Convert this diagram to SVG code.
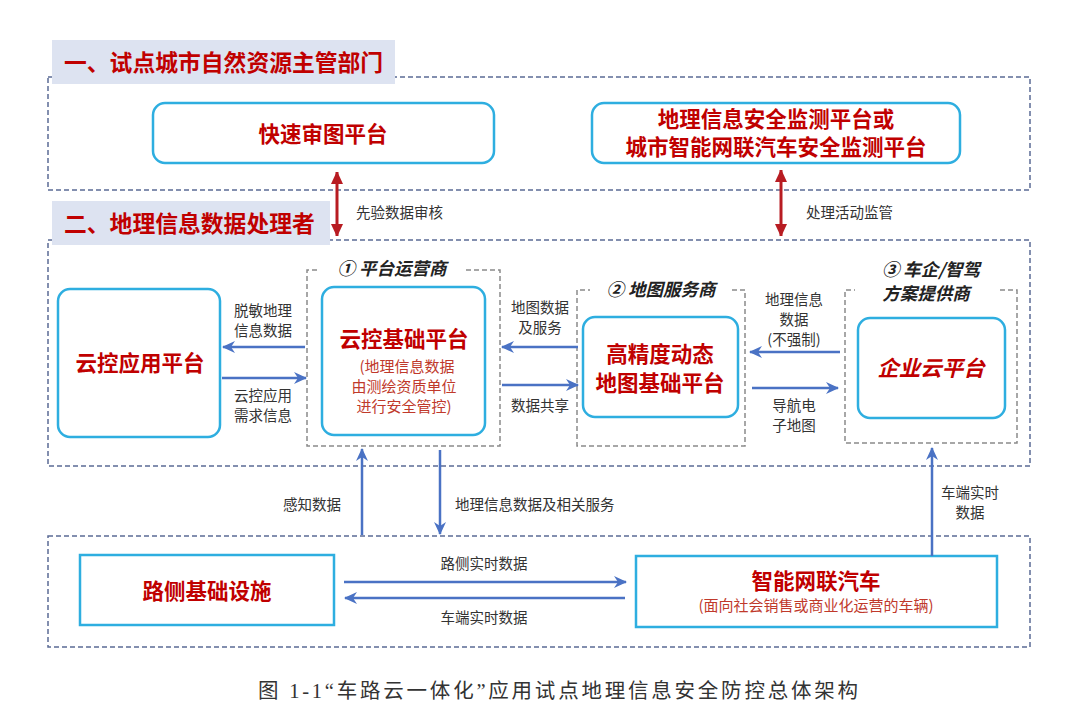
<svg xmlns="http://www.w3.org/2000/svg" width="1080" height="722" viewBox="0 0 1080 722">
<style>
.sec{fill:none;stroke:#5b6b95;stroke-width:1.5;stroke-dasharray:5 3}
.grp{fill:none;stroke:#8a8a8a;stroke-width:1.5;stroke-dasharray:5 3}
.hbg{fill:#dde3f1}
.node{fill:#fff;stroke:#2eaee0;stroke-width:2.5}
.h{font-family:"Noto Sans CJK SC",sans-serif;font-weight:bold;fill:#c00000;font-size:22.8px}
.t{font-family:"Noto Sans CJK SC",sans-serif;font-weight:bold;fill:#c00000;font-size:21.5px;text-anchor:middle}
.s{font-family:"Noto Sans CJK SC",sans-serif;fill:#c0392b;font-size:15px;text-anchor:middle}
.l{font-family:"Noto Sans CJK SC",sans-serif;fill:#333;font-size:14.5px;text-anchor:middle}
.ls{font-family:"Noto Sans CJK SC",sans-serif;fill:#333;font-size:14.5px;text-anchor:start}
.g{font-family:"Noto Sans CJK SC",sans-serif;font-weight:bold;font-style:italic;fill:#222;font-size:17.5px;text-anchor:middle}
.ba{stroke:#4a72c4;stroke-width:2.5;fill:none;marker-end:url(#bh)}
.ra{stroke:#b81c22;stroke-width:3;fill:none;marker-start:url(#rh);marker-end:url(#rh)}
</style>
<defs>
<marker id="bh" markerUnits="userSpaceOnUse" markerWidth="14" markerHeight="12" refX="12" refY="6" orient="auto">
<path d="M0,0 L13,6 L0,12 L4,6 z" fill="#4a72c4"/>
</marker>
<marker id="rh" markerUnits="userSpaceOnUse" markerWidth="12" markerHeight="14" refX="12" refY="6" orient="auto-start-reverse">
<path d="M0,0 L13,6 L0,12 z" fill="#b81c22"/>
</marker>
</defs>
<rect width="1080" height="722" fill="#fff"/>

<g id="section1">
<rect class="sec" x="48" y="77" width="982" height="113"/>
<rect class="hbg" x="52" y="40" width="343" height="44"/>
<text class="h" x="64" y="71">一、试点城市自然资源主管部门</text>
</g>
<g id="section2">
<rect class="sec" x="48" y="240" width="982" height="226"/>
<rect class="hbg" x="52" y="201" width="278" height="44"/>
<text class="h" x="64" y="232">二、地理信息数据处理者</text>
</g>
<g id="section3">
<rect class="sec" x="48" y="536" width="982" height="111"/>
</g>

<g id="grp1">
<path class="grp" d="M466,270 H500 V446 H307 V270 H318"/>
<text class="g" x="392" y="275">① 平台运营商</text>
</g>
<g id="grp2">
<path class="grp" d="M732,290 H745 V446 H577 V290 H590"/>
<text class="g" x="661" y="296">② 地图服务商</text>
</g>
<g id="grp3">
<path class="grp" d="M1000,290 H1017 V443 H845 V290 H855"/>
<text class="g" x="931" y="276">③ 车企/智驾</text>
<text class="g" x="926" y="300">方案提供商</text>
</g>

<g id="n-review">
<rect class="node" x="153" y="103" width="341" height="60" rx="12"/>
<text class="t" x="323" y="142">快速审图平台</text>
</g>
<g id="n-monitor">
<rect class="node" x="592" y="103" width="368" height="60" rx="12"/>
<text class="t" x="776" y="127">地理信息安全监测平台或</text>
<text class="t" x="776" y="155">城市智能网联汽车安全监测平台</text>
</g>
<g id="n-app">
<rect class="node" x="58" y="289" width="162" height="148" rx="12"/>
<text class="t" x="140" y="371">云控应用平台</text>
</g>
<g id="n-base">
<rect class="node" x="322" y="287" width="163" height="148" rx="12"/>
<text class="t" x="404" y="347">云控基础平台</text>
<text class="s" x="407" y="372">(地理信息数据</text>
<text class="s" x="404" y="392">由测绘资质单位</text>
<text class="s" x="404" y="412">进行安全管控)</text>
</g>
<g id="n-hdmap">
<rect class="node" x="583" y="317" width="155" height="100" rx="12"/>
<text class="t" x="660" y="362">高精度动态</text>
<text class="t" x="660" y="391">地图基础平台</text>
</g>
<g id="n-cloud">
<rect class="node" x="858" y="318" width="147" height="100" rx="12"/>
<text class="t" x="931" y="376" font-style="italic">企业云平台</text>
</g>
<g id="n-road">
<rect class="node" x="80" y="555" width="254" height="70"/>
<text class="t" x="207" y="599">路侧基础设施</text>
</g>
<g id="n-car">
<rect class="node" x="636" y="556" width="361" height="71"/>
<text class="t" x="816" y="589">智能网联汽车</text>
<text class="s" x="816" y="611">(面向社会销售或商业化运营的车辆)</text>
</g>

<g id="connectors">
<line class="ra" x1="337" y1="172" x2="337" y2="236"/>
<line class="ra" x1="781" y1="170" x2="781" y2="236"/>
<line class="ba" x1="305" y1="347" x2="223" y2="347"/>
<line class="ba" x1="222" y1="378" x2="306" y2="378"/>
<line class="ba" x1="578" y1="347" x2="502" y2="347"/>
<line class="ba" x1="502" y1="385" x2="578" y2="385"/>
<line class="ba" x1="840" y1="352" x2="750" y2="352"/>
<line class="ba" x1="752" y1="388" x2="838" y2="388"/>
<line class="ba" x1="362" y1="535" x2="362" y2="449"/>
<line class="ba" x1="440" y1="450" x2="440" y2="534"/>
<line class="ba" x1="932" y1="556" x2="932" y2="448"/>
<line class="ba" x1="344" y1="582" x2="626" y2="582"/>
<line class="ba" x1="625" y1="598" x2="345" y2="598"/>
</g>

<g id="labels">
<text class="ls" x="356" y="218">先验数据审核</text>
<text class="ls" x="806" y="218">处理活动监管</text>
<text class="l" x="263" y="316">脱敏地理</text>
<text class="l" x="263" y="336">信息数据</text>
<text class="l" x="263" y="401">云控应用</text>
<text class="l" x="263" y="421">需求信息</text>
<text class="l" x="540" y="313">地图数据</text>
<text class="l" x="540" y="333">及服务</text>
<text class="l" x="540" y="411">数据共享</text>
<text class="l" x="794" y="305">地理信息</text>
<text class="l" x="794" y="325">数据</text>
<text class="l" x="794" y="345">(不强制)</text>
<text class="l" x="794" y="411">导航电</text>
<text class="l" x="794" y="431">子地图</text>
<text class="l" x="312" y="510">感知数据</text>
<text class="ls" x="455" y="510">地理信息数据及相关服务</text>
<text class="l" x="970" y="498">车端实时</text>
<text class="l" x="970" y="518">数据</text>
<text class="l" x="484" y="569">路侧实时数据</text>
<text class="l" x="484" y="623">车端实时数据</text>
</g>

<text x="258" y="698" textLength="600" lengthAdjust="spacing" font-family="Liberation Serif, Noto Sans CJK SC, serif" font-size="20.5" fill="#333">图 1-1“车路云一体化”应用试点地理信息安全防控总体架构</text>
</svg>
